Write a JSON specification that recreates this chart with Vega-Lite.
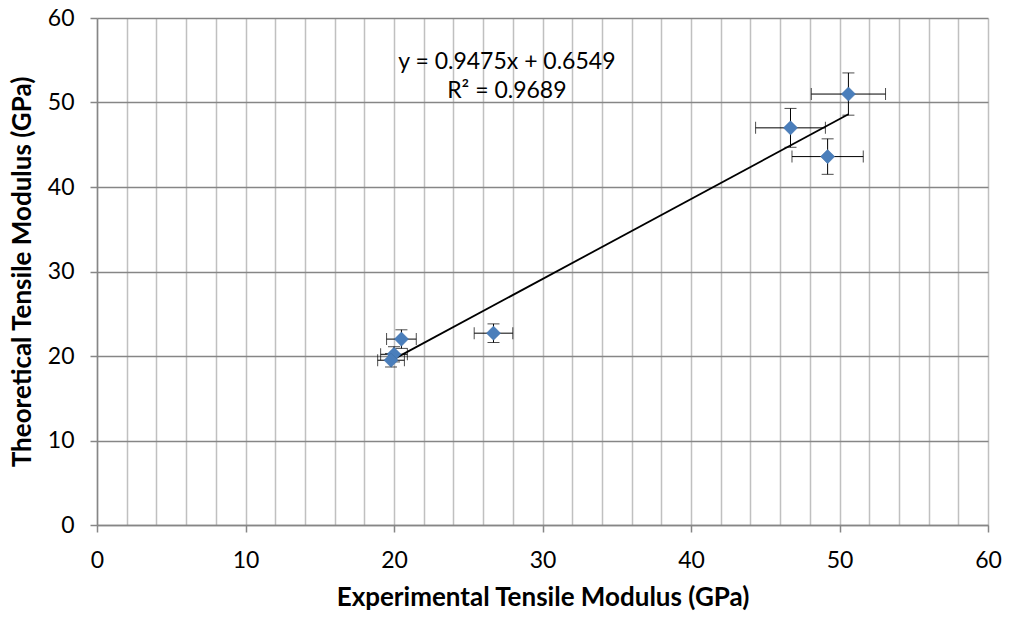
{
  "$schema": "https://vega.github.io/schema/vega-lite/v6.json",
  "width": 891,
  "height": 507,
  "autosize": {"type": "none"},
  "padding": {"left": 97, "top": 18, "right": 22, "bottom": 94},
  "background": "white",
  "config": {"view": {"stroke": null}, "font": "Lato"},
  "datasets": {
    "pts": [
      {"x": 50.6, "y": 51.0, "ex": 2.5, "ey": 2.5},
      {"x": 46.7, "y": 47.0, "ex": 2.35, "ey": 2.3},
      {"x": 49.2, "y": 43.6, "ex": 2.4, "ey": 2.1},
      {"x": 26.7, "y": 22.7, "ex": 1.3, "ey": 1.1},
      {"x": 20.5, "y": 22.0, "ex": 1.0, "ey": 1.1},
      {"x": 20.0, "y": 20.2, "ex": 0.9, "ey": 0.9},
      {"x": 19.8, "y": 19.5, "ex": 0.9, "ey": 0.8}
    ],
    "notes": [
      {"x": 27.6, "y": 54.8, "t": "y = 0.9475x + 0.6549"},
      {"x": 27.6, "y": 51.4, "t": "R² = 0.9689"}
    ]
  },
  "encoding": {
    "x": {
      "field": "x", "type": "quantitative",
      "scale": {"domain": [0, 60], "nice": false, "zero": false},
      "axis": {
        "title": "Experimental Tensile Modulus (GPa)",
        "values": [0,2,4,6,8,10,12,14,16,18,20,22,24,26,28,30,32,34,36,38,40,42,44,46,48,50,52,54,56,58,60],
        "labelExpr": "datum.value % 10 === 0 ? datum.label : ''",
        "labelOverlap": false,
        "labelFlush": false,
        "grid": true, "gridColor": "#c0c0c0", "gridWidth": 1.5,
        "domainColor": "#868686", "domainWidth": 1.5,
        "tickColor": "#868686", "tickSize": 7, "tickWidth": 1.5,
        "tickOpacity": {"expr": "datum.value % 10 === 0 ? 1 : 0"},
        "labelFont": "Lato", "labelFontSize": 23, "labelColor": "black", "labelPadding": 17,
        "titleFont": "Lato", "titleFontSize": 26, "titleFontWeight": "bold", "titleColor": "black", "titlePadding": 12
      }
    },
    "y": {
      "field": "y", "type": "quantitative",
      "scale": {"domain": [0, 60], "nice": false, "zero": false},
      "axis": {
        "title": "Theoretical Tensile Modulus (GPa)",
        "values": [0,10,20,30,40,50,60],
        "labelOverlap": false,
        "labelFlush": false,
        "grid": true, "gridColor": "#868686", "gridWidth": 1.5,
        "domainColor": "#868686", "domainWidth": 1.5,
        "tickColor": "#868686", "tickSize": 7, "tickWidth": 1.5,
        "labelFont": "Lato", "labelFontSize": 23, "labelColor": "black", "labelPadding": 16,
        "titleFont": "Lato", "titleFontSize": 26, "titleFontWeight": "bold", "titleColor": "black", "titlePadding": 12
      }
    }
  },
  "layer": [
    {
      "data": {"name": "pts"},
      "mark": {"type": "errorbar", "ticks": {"size": 12, "color": "black", "strokeWidth": 1.6}, "color": "black", "strokeWidth": 1.6},
      "encoding": {
        "xError": {"field": "ex"}
      }
    },
    {
      "data": {"name": "pts"},
      "mark": {"type": "errorbar", "ticks": {"size": 12, "color": "black", "strokeWidth": 1.6}, "color": "black", "strokeWidth": 1.6},
      "encoding": {
        "yError": {"field": "ey"}
      }
    },
    {
      "data": {"name": "pts"},
      "transform": [{"regression": "y", "on": "x"}],
      "mark": {"type": "line", "color": "black", "strokeWidth": 1.8},
      "encoding": {}
    },
    {
      "data": {"name": "pts"},
      "mark": {"type": "point", "shape": "diamond", "filled": true, "size": 200, "color": "#4a7ebb", "opacity": 1, "stroke": "#3d6da6", "strokeWidth": 0.5},
      "encoding": {}
    },
    {
      "data": {"name": "notes"},
      "mark": {"type": "text", "font": "Lato", "fontSize": 23, "color": "black", "align": "center", "baseline": "middle"},
      "encoding": {
        "text": {"field": "t"}
      }
    }
  ]
}
